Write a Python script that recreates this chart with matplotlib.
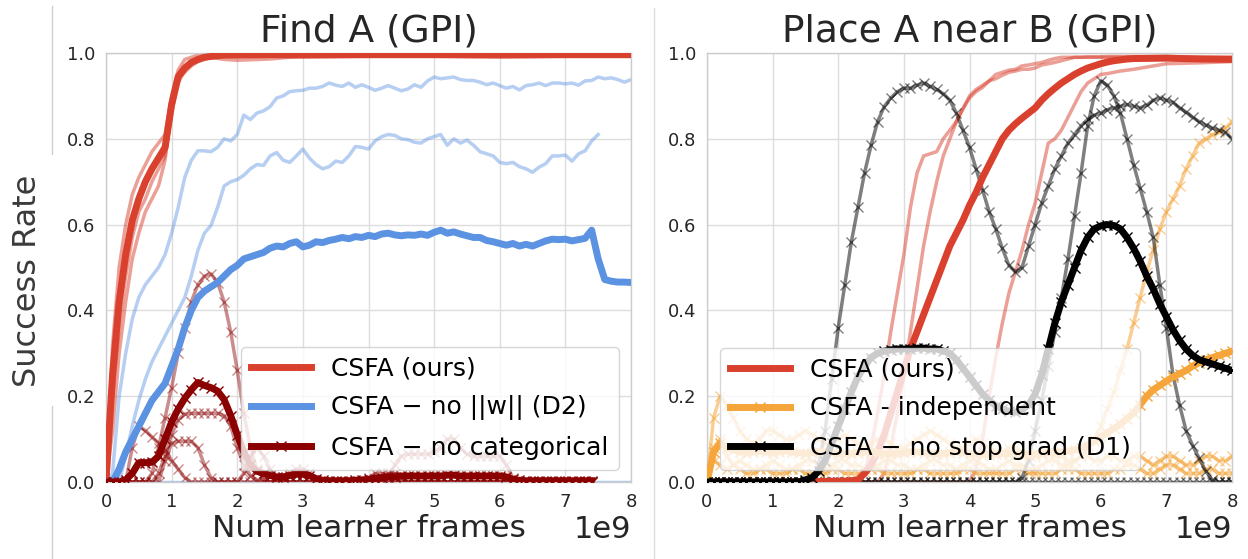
import numpy as np
import matplotlib
matplotlib.use("Agg")
import matplotlib.pyplot as plt
from matplotlib.lines import Line2D

# ---- data (x in units of 1e9 learner frames) ----
steps = [round(0.1 * i, 1) for i in range(81)]

# Find A (GPI): CSFA (ours)
red_find_x = [0.0, 0.1, 0.2, 0.3, 0.4, 0.5, 0.6, 0.7, 0.8, 0.9, 1.0, 1.1, 1.2,
              1.3, 1.4, 1.5, 1.6, 1.8, 2.0, 2.5, 3.0, 4.0, 5.0, 6.0, 7.0, 8.0]
red_find_mean = [0.0, 0.25, 0.42, 0.53, 0.61, 0.66, 0.70, 0.73, 0.755, 0.78, 0.88, 0.945, 0.965,
                 0.978, 0.985, 0.99, 0.992, 0.995, 0.995, 0.996, 0.995, 0.996, 0.996, 0.995, 0.996, 0.996]
red_find_s1 = [0.0, 0.32, 0.5, 0.6, 0.67, 0.71, 0.74, 0.77, 0.79, 0.81, 0.9, 0.96, 0.985,
               0.99, 0.995, 0.996, 0.997, 0.997, 0.997, 0.997, 0.997, 0.997, 0.997, 0.997, 0.997, 0.997]
red_find_s2 = [0.0, 0.2, 0.36, 0.48, 0.57, 0.63, 0.66, 0.70, 0.73, 0.76, 0.86, 0.93, 0.96,
               0.975, 0.985, 0.99, 0.99, 0.985, 0.983, 0.986, 0.993, 0.996, 0.996, 0.996, 0.996, 0.996]
red_find_s3 = [0.0, 0.12, 0.3, 0.42, 0.52, 0.58, 0.63, 0.66, 0.69, 0.75, 0.87, 0.94, 0.955,
               0.97, 0.98, 0.985, 0.99, 0.995, 0.995, 0.995, 0.996, 0.996, 0.996, 0.996, 0.996, 0.996]

# Find A (GPI): CSFA - no ||w|| (D2)
blue_mean = [
    0.0, 0.0, 0.03, 0.07, 0.1, 0.13, 0.16, 0.19, 0.21, 0.23,
    0.27, 0.31, 0.36, 0.4, 0.43, 0.445, 0.455, 0.465, 0.48, 0.495,
    0.505, 0.52, 0.525, 0.53, 0.535, 0.545, 0.55, 0.548, 0.556, 0.56,
    0.548, 0.552, 0.56, 0.558, 0.563, 0.566, 0.57, 0.567, 0.572, 0.57,
    0.575, 0.572, 0.578, 0.58, 0.576, 0.574, 0.576, 0.575, 0.578, 0.575,
    0.582, 0.587, 0.58, 0.583, 0.578, 0.574, 0.57, 0.57, 0.563, 0.56,
    0.556, 0.552, 0.556, 0.55, 0.554, 0.55, 0.556, 0.562, 0.566, 0.565,
    0.566, 0.562, 0.565, 0.568, 0.587, 0.52, 0.472, 0.468, 0.466, 0.466, 0.465]
blue_s1 = [
    0.0, 0.02, 0.2, 0.3, 0.38, 0.43, 0.46, 0.48, 0.5, 0.53,
    0.58, 0.64, 0.71, 0.75, 0.772, 0.772, 0.77, 0.78, 0.8, 0.795,
    0.81, 0.855, 0.845, 0.86, 0.865, 0.875, 0.895, 0.9, 0.91, 0.912,
    0.913, 0.918, 0.918, 0.922, 0.93, 0.925, 0.922, 0.93, 0.92, 0.926,
    0.92, 0.913, 0.918, 0.924, 0.918, 0.912, 0.916, 0.926, 0.92, 0.935,
    0.944, 0.94, 0.942, 0.944, 0.938, 0.936, 0.936, 0.932, 0.926, 0.93,
    0.924, 0.918, 0.922, 0.914, 0.924, 0.926, 0.93, 0.924, 0.93, 0.93,
    0.928, 0.93, 0.925, 0.935, 0.936, 0.944, 0.94, 0.942, 0.938, 0.932, 0.938]
blue_s2 = [
    0.0, 0.0, 0.0, 0.06, 0.13, 0.19, 0.24, 0.28, 0.31, 0.34,
    0.37, 0.4, 0.43, 0.48, 0.54, 0.58, 0.598, 0.64, 0.69, 0.7,
    0.705, 0.715, 0.73, 0.74, 0.738, 0.76, 0.768, 0.75, 0.745, 0.76,
    0.776, 0.755, 0.74, 0.73, 0.735, 0.748, 0.745, 0.76, 0.782, 0.78,
    0.776, 0.795, 0.805, 0.81, 0.808, 0.8, 0.798, 0.792, 0.79, 0.8,
    0.805, 0.81, 0.785, 0.8, 0.79, 0.797, 0.785, 0.77, 0.765, 0.76,
    0.745, 0.742, 0.745, 0.735, 0.73, 0.722, 0.734, 0.742, 0.76, 0.76,
    0.762, 0.748, 0.765, 0.772, 0.795, 0.81]
blue_s3_x = [0.0, 8.0]
blue_s3 = [0.0, 0.0]

# Find A (GPI): CSFA - no categorical
darkred_mean = [
    0.0, 0.0, 0.0, 0.005, 0.02, 0.045, 0.045, 0.046, 0.06, 0.1,
    0.14, 0.17, 0.195, 0.215, 0.232, 0.225, 0.22, 0.212, 0.192, 0.155,
    0.11, 0.07, 0.04, 0.025, 0.02, 0.015, 0.012, 0.012, 0.015, 0.018,
    0.018, 0.015, 0.008, 0.004, 0.003, 0.003, 0.003, 0.003, 0.004, 0.005,
    0.006, 0.008, 0.01, 0.012, 0.012, 0.014, 0.014, 0.014, 0.014, 0.014,
    0.014, 0.014, 0.016, 0.016, 0.014, 0.014, 0.014, 0.014, 0.014, 0.014,
    0.014, 0.012, 0.006, 0.004, 0.003, 0.003, 0.003, 0.003, 0.003, 0.003,
    0.003, 0.003, 0.003, 0.003, 0.003]
darkred_s1 = [
    0.0, 0.0, 0.0, 0.0, 0.0, 0.0, 0.0, 0.02, 0.08, 0.15,
    0.22, 0.3, 0.36, 0.42, 0.46, 0.48, 0.485, 0.465, 0.42, 0.35,
    0.26, 0.16, 0.08, 0.03, 0.008, 0.0, 0.0, 0.0, 0.0, 0.0,
    0.0, 0.0, 0.0, 0.0, 0.0, 0.0, 0.0, 0.0, 0.0, 0.0,
    0.0, 0.0, 0.0, 0.0, 0.0, 0.0, 0.0, 0.0, 0.0, 0.0,
    0.0, 0.0, 0.0, 0.0, 0.0, 0.0, 0.0, 0.0, 0.0, 0.0,
    0.0, 0.0, 0.0, 0.0, 0.0, 0.0, 0.0, 0.0, 0.0, 0.0,
    0.0, 0.0, 0.0, 0.0, 0.0]
darkred_s2 = [
    0.0, 0.0, 0.0, 0.0, 0.0, 0.0, 0.0, 0.0, 0.02, 0.06,
    0.11, 0.145, 0.158, 0.16, 0.16, 0.16, 0.16, 0.16, 0.155, 0.13,
    0.08, 0.04, 0.015, 0.005, 0.0, 0.0, 0.0, 0.0, 0.0, 0.0,
    0.0, 0.0, 0.0, 0.0, 0.0, 0.0, 0.0, 0.0, 0.0, 0.0,
    0.0, 0.0, 0.0, 0.01, 0.04, 0.06, 0.065, 0.065, 0.065, 0.065,
    0.07, 0.08, 0.1, 0.1, 0.08, 0.065, 0.06, 0.06, 0.06, 0.06,
    0.06, 0.04, 0.01, 0.0, 0.0, 0.0, 0.0, 0.0, 0.0, 0.0,
    0.0, 0.0, 0.0, 0.0, 0.0]
darkred_s3 = [
    0.0, 0.0, 0.0, 0.0, 0.0, 0.0, 0.0, 0.0, 0.0, 0.05,
    0.09, 0.095, 0.095, 0.095, 0.08, 0.04, 0.01, 0.0, 0.0, 0.0,
    0.0, 0.02, 0.06, 0.08, 0.06, 0.03, 0.01, 0.0, 0.0, 0.0,
    0.0, 0.0, 0.0, 0.0, 0.0, 0.0, 0.0, 0.0, 0.0, 0.0,
    0.0, 0.0, 0.0, 0.0, 0.0, 0.0, 0.0, 0.0, 0.0, 0.0,
    0.0, 0.0, 0.0, 0.0, 0.0, 0.0, 0.0, 0.0, 0.0, 0.0,
    0.0, 0.0, 0.0, 0.0, 0.0, 0.0, 0.0, 0.0, 0.0, 0.0,
    0.0, 0.0, 0.0, 0.0, 0.0]
darkred_s4 = [
    0.0, 0.0, 0.0, 0.0, 0.08, 0.13, 0.12, 0.105, 0.09, 0.075,
    0.05, 0.03, 0.01, 0.0, 0.0, 0.0, 0.0, 0.0, 0.0, 0.0,
    0.0, 0.0, 0.0, 0.0, 0.0, 0.0, 0.0, 0.0, 0.02, 0.03,
    0.03, 0.02, 0.0, 0.0, 0.0, 0.0, 0.0, 0.0, 0.0, 0.0,
    0.01, 0.02, 0.02, 0.02, 0.02, 0.01, 0.0, 0.0, 0.0, 0.0,
    0.0, 0.0, 0.0, 0.0, 0.0, 0.0, 0.0, 0.0, 0.0, 0.0,
    0.0, 0.0, 0.0, 0.0, 0.0, 0.0, 0.0, 0.0, 0.0, 0.0,
    0.0, 0.0, 0.0, 0.0, 0.0]

# Place A near B (GPI): CSFA (ours)
red_place_x = [0.0, 1.0, 2.0,
               2.1, 2.2, 2.3, 2.4, 2.5, 2.6, 2.7, 2.8, 2.9, 3.0,
               3.1, 3.2, 3.3, 3.4, 3.5, 3.6, 3.7, 3.8, 3.9, 4.0,
               4.1, 4.2, 4.3, 4.4, 4.5, 4.6, 4.7, 4.8, 4.9, 5.0,
               5.1, 5.2, 5.3, 5.4, 5.5, 5.6, 5.7, 5.8, 5.9, 6.0,
               6.1, 6.2, 6.3, 6.4, 6.5, 7.0, 7.5, 8.0]
red_place_mean = [0.0, 0.0, 0.002,
                  0.002, 0.003, 0.005, 0.02, 0.04, 0.07, 0.11, 0.16, 0.21, 0.26,
                  0.31, 0.35, 0.39, 0.43, 0.47, 0.51, 0.55, 0.58, 0.61, 0.645,
                  0.675, 0.71, 0.74, 0.77, 0.80, 0.82, 0.835, 0.848, 0.86, 0.872,
                  0.89, 0.905, 0.918, 0.93, 0.94, 0.95, 0.958, 0.965, 0.97, 0.975,
                  0.979, 0.982, 0.984, 0.986, 0.987, 0.988, 0.986, 0.985]
red_place_s1 = [0.0, 0.0, 0.0,
                0.0, 0.0, 0.0, 0.02, 0.08, 0.16, 0.25, 0.35, 0.44, 0.53,
                0.64, 0.72, 0.76, 0.765, 0.77, 0.80, 0.82, 0.84, 0.87, 0.895,
                0.91, 0.92, 0.935, 0.95, 0.955, 0.96, 0.962, 0.97, 0.972, 0.975,
                0.978, 0.983, 0.987, 0.99, 0.99, 0.99, 0.99, 0.99, 0.99, 0.99,
                0.99, 0.99, 0.99, 0.99, 0.99, 0.99, 0.99, 0.99]
red_place_s2 = [0.0, 0.0, 0.0,
                0.0, 0.0, 0.0, 0.0, 0.0, 0.0, 0.02, 0.08, 0.16, 0.25,
                0.35, 0.45, 0.55, 0.63, 0.7, 0.76, 0.8, 0.84, 0.87, 0.9,
                0.915, 0.925, 0.935, 0.94, 0.948, 0.955, 0.958, 0.962, 0.962, 0.965,
                0.972, 0.975, 0.978, 0.982, 0.986, 0.99, 0.99, 0.991, 0.991, 0.991,
                0.992, 0.992, 0.992, 0.992, 0.992, 0.992, 0.99, 0.99]
red_place_s3 = [0.0, 0.0, 0.0,
                0.0, 0.0, 0.0, 0.0, 0.0, 0.0, 0.0, 0.0, 0.0, 0.0,
                0.0, 0.0, 0.0, 0.0, 0.0, 0.0, 0.0, 0.0, 0.0, 0.0,
                0.03, 0.1, 0.2, 0.29, 0.37, 0.44, 0.49, 0.54, 0.6, 0.65,
                0.72, 0.79, 0.8, 0.82, 0.85, 0.88, 0.91, 0.93, 0.94, 0.95,
                0.952, 0.955, 0.958, 0.96, 0.962, 0.975, 0.977, 0.98]

# Place A near B (GPI): CSFA - independent
orange_mean = [
    0.0, 0.07, 0.09, 0.08, 0.075, 0.07, 0.068, 0.07, 0.072, 0.07,
    0.068, 0.07, 0.072, 0.07, 0.068, 0.066, 0.068, 0.07, 0.07, 0.068,
    0.066, 0.065, 0.066, 0.068, 0.07, 0.07, 0.068, 0.066, 0.065, 0.066,
    0.068, 0.07, 0.07, 0.068, 0.066, 0.065, 0.066, 0.068, 0.07, 0.068,
    0.066, 0.065, 0.064, 0.064, 0.065, 0.066, 0.066, 0.065, 0.064, 0.064,
    0.065, 0.066, 0.068, 0.068, 0.07, 0.072, 0.075, 0.08, 0.085, 0.095,
    0.105, 0.115, 0.125, 0.135, 0.148, 0.16, 0.18, 0.2, 0.215, 0.225,
    0.235, 0.245, 0.252, 0.26, 0.27, 0.278, 0.285, 0.29, 0.295, 0.3, 0.305]
orange_s1 = [
    0.0, 0.05, 0.04, 0.03, 0.04, 0.05, 0.04, 0.03, 0.03, 0.04,
    0.05, 0.04, 0.03, 0.03, 0.04, 0.05, 0.05, 0.04, 0.03, 0.04,
    0.05, 0.05, 0.04, 0.04, 0.03, 0.03, 0.04, 0.05, 0.05, 0.04,
    0.04, 0.03, 0.03, 0.04, 0.05, 0.05, 0.04, 0.04, 0.03, 0.04,
    0.05, 0.05, 0.04, 0.03, 0.03, 0.04, 0.05, 0.04, 0.04, 0.03,
    0.03, 0.04, 0.05, 0.05, 0.04, 0.04, 0.05, 0.06, 0.08, 0.1,
    0.13, 0.17, 0.21, 0.26, 0.31, 0.37, 0.43, 0.49, 0.54, 0.59,
    0.63, 0.66, 0.69, 0.73, 0.76, 0.79, 0.8, 0.81, 0.815, 0.825, 0.84]
orange_s2 = [
    0.0, 0.15, 0.2, 0.18, 0.15, 0.12, 0.1, 0.09, 0.1, 0.12,
    0.12, 0.11, 0.1, 0.1, 0.11, 0.12, 0.11, 0.1, 0.09, 0.09,
    0.1, 0.11, 0.1, 0.09, 0.08, 0.09, 0.1, 0.1, 0.09, 0.08,
    0.08, 0.09, 0.1, 0.11, 0.12, 0.11, 0.1, 0.09, 0.08, 0.08,
    0.09, 0.1, 0.09, 0.08, 0.07, 0.07, 0.08, 0.08, 0.07, 0.06,
    0.06, 0.07, 0.07, 0.06, 0.06, 0.05, 0.05, 0.06, 0.06, 0.05,
    0.05, 0.06, 0.06, 0.05, 0.05, 0.06, 0.06, 0.05, 0.04, 0.05,
    0.06, 0.06, 0.05, 0.04, 0.04, 0.05, 0.06, 0.06, 0.05, 0.05, 0.06]
orange_s3 = [
    0.0, 0.08, 0.1, 0.06, 0.04, 0.03, 0.02, 0.02, 0.03, 0.03,
    0.02, 0.02, 0.02, 0.03, 0.03, 0.02, 0.02, 0.02, 0.02, 0.03,
    0.03, 0.02, 0.02, 0.02, 0.02, 0.03, 0.03, 0.02, 0.02, 0.02,
    0.02, 0.02, 0.03, 0.03, 0.02, 0.02, 0.02, 0.02, 0.02, 0.03,
    0.03, 0.02, 0.02, 0.02, 0.02, 0.02, 0.02, 0.03, 0.03, 0.02,
    0.02, 0.02, 0.02, 0.02, 0.03, 0.03, 0.03, 0.02, 0.02, 0.02,
    0.02, 0.02, 0.03, 0.03, 0.04, 0.04, 0.03, 0.02, 0.02, 0.03,
    0.04, 0.04, 0.03, 0.02, 0.02, 0.02, 0.03, 0.03, 0.02, 0.02, 0.02]

# Place A near B (GPI): CSFA - no stop grad (D1)
black_mean = [
    0.0, 0.0, 0.0, 0.0, 0.0, 0.0, 0.0, 0.0, 0.0, 0.0,
    0.0, 0.0, 0.0, 0.0, 0.0, 0.005, 0.01, 0.025, 0.05, 0.09,
    0.13, 0.17, 0.21, 0.245, 0.27, 0.29, 0.3, 0.305, 0.308, 0.31,
    0.31, 0.31, 0.312, 0.312, 0.31, 0.31, 0.305, 0.3, 0.285, 0.265,
    0.245, 0.225, 0.205, 0.19, 0.178, 0.17, 0.165, 0.163, 0.168, 0.18,
    0.205, 0.25, 0.31, 0.37, 0.42, 0.46, 0.5, 0.54, 0.57, 0.59,
    0.597, 0.6, 0.598, 0.59, 0.57, 0.545, 0.515, 0.48, 0.45, 0.415,
    0.385, 0.355, 0.33, 0.31, 0.295, 0.285, 0.28, 0.275, 0.27, 0.265, 0.26]
black_s1 = [
    0.0, 0.0, 0.0, 0.0, 0.0, 0.0, 0.0, 0.0, 0.0, 0.0,
    0.0, 0.0, 0.0, 0.0, 0.0, 0.0, 0.0, 0.04, 0.12, 0.24,
    0.36, 0.46, 0.56, 0.64, 0.72, 0.785, 0.84, 0.875, 0.895, 0.91,
    0.918, 0.918, 0.925, 0.93, 0.922, 0.915, 0.905, 0.89, 0.86, 0.82,
    0.78, 0.73, 0.68, 0.63, 0.59, 0.545, 0.505, 0.49, 0.5, 0.55,
    0.6, 0.65, 0.69, 0.73, 0.76, 0.79, 0.81, 0.83, 0.845, 0.855,
    0.86, 0.868, 0.872, 0.876, 0.88, 0.876, 0.872, 0.878, 0.89, 0.895,
    0.89, 0.885, 0.872, 0.862, 0.85, 0.84, 0.832, 0.825, 0.82, 0.815, 0.8]
black_s2 = [
    0.0, 0.0, 0.0, 0.0, 0.0, 0.0, 0.0, 0.0, 0.0, 0.0,
    0.0, 0.0, 0.0, 0.0, 0.0, 0.0, 0.0, 0.0, 0.0, 0.0,
    0.0, 0.0, 0.0, 0.0, 0.0, 0.0, 0.0, 0.0, 0.0, 0.0,
    0.0, 0.0, 0.0, 0.0, 0.0, 0.0, 0.0, 0.0, 0.0, 0.0,
    0.0, 0.0, 0.0, 0.0, 0.0, 0.0, 0.0, 0.0, 0.01, 0.05,
    0.12, 0.19, 0.27, 0.35, 0.43, 0.52, 0.62, 0.72, 0.83, 0.9,
    0.935, 0.925, 0.9, 0.86, 0.8, 0.74, 0.685, 0.63, 0.57, 0.46,
    0.36, 0.25, 0.18, 0.12, 0.085, 0.055, 0.025, 0.005, 0.0, 0.0, 0.0]
black_s3 = [
    0.0, 0.0, 0.0, 0.0, 0.0, 0.0, 0.0, 0.0, 0.0, 0.0,
    0.0, 0.0, 0.0, 0.0, 0.0, 0.0, 0.0, 0.0, 0.0, 0.0,
    0.0, 0.0, 0.0, 0.0, 0.0, 0.0, 0.0, 0.0, 0.0, 0.0,
    0.0, 0.0, 0.0, 0.0, 0.0, 0.0, 0.0, 0.0, 0.0, 0.0,
    0.0, 0.0, 0.0, 0.0, 0.0, 0.0, 0.0, 0.0, 0.0, 0.0,
    0.0, 0.0, 0.0, 0.0, 0.0, 0.0, 0.0, 0.0, 0.0, 0.0,
    0.0, 0.0, 0.0, 0.0, 0.0, 0.0, 0.0, 0.0, 0.0, 0.0,
    0.0, 0.0, 0.0, 0.0, 0.0, 0.0, 0.0, 0.0, 0.0, 0.0, 0.0]

RED = "#d9412e"
BLUE = "#5b93e2"
DARKRED = "#8b0000"
ORANGE = "#f5a53a"
BLACK = "#000000"
TEXT = "#262626"

plt.rcParams["font.family"] = "DejaVu Sans"


def draw(ax, x, y, color, lw, alpha=1.0, marker=None, label=None, z=2):
    xs = np.array(x[:len(y)]) * 1e9
    ax.plot(xs, y, color=color, lw=lw, alpha=alpha, marker=marker, ms=7,
            mew=1.0, label=label, zorder=z)


def style(ax, title):
    ax.set_facecolor("white")
    ax.set_xlim(0, 8e9)
    ax.set_ylim(0, 1.0)
    ax.set_xticks(np.arange(9) * 1e9)
    ax.set_yticks([0.0, 0.2, 0.4, 0.6, 0.8, 1.0])
    ax.yaxis.set_major_formatter("{x:.1f}")
    ax.grid(True, color="#dddddd", lw=1.0, zorder=0)
    ax.set_axisbelow(True)
    for sp in ax.spines.values():
        sp.set_color("#cccccc")
        sp.set_linewidth(1.0)
    ax.tick_params(length=0, labelsize=13, colors=TEXT, pad=8)
    ax.set_title(title, fontsize=27, color=TEXT, pad=8)
    ax.set_xlabel("Num learner frames", fontsize=22.5, color=TEXT, labelpad=2)
    ax.xaxis.get_offset_text().set_fontsize(22)
    ax.xaxis.get_offset_text().set_color(TEXT)


fig = plt.figure(figsize=(12.48, 5.59), dpi=100)
ax1 = fig.add_axes([106 / 1248, 77 / 559, 525 / 1248, 429 / 559])
ax2 = fig.add_axes([707 / 1248, 77 / 559, 525 / 1248, 429 / 559])

# thin panel borders from the composite figure
fig.add_artist(Line2D([52 / 1248] * 2, [0, 0.99], transform=fig.transFigure,
                      color="#cfcfcf", lw=1.0, zorder=-1))
fig.add_artist(Line2D([654 / 1248] * 2, [0, 0.985], transform=fig.transFigure,
                      color="#dcdcdc", lw=1.0, zorder=-1))

# ---- left: Find A ----
for s in (blue_s1, blue_s2):
    draw(ax1, steps, s, BLUE, 2.5, alpha=0.45)
draw(ax1, blue_s3_x, blue_s3, BLUE, 2.5, alpha=0.45)
for s in (red_find_s1, red_find_s2, red_find_s3):
    draw(ax1, red_find_x, s, RED, 2.5, alpha=0.5)
for s in (darkred_s1, darkred_s2, darkred_s3, darkred_s4):
    draw(ax1, steps, s, DARKRED, 2.5, alpha=0.45, marker="x")
draw(ax1, red_find_x, red_find_mean, RED, 5, label="CSFA (ours)", z=3)
draw(ax1, steps, blue_mean, BLUE, 5, label="CSFA \u2212 no ||w|| (D2)", z=3)
draw(ax1, steps, darkred_mean, DARKRED, 5, marker="x",
     label="CSFA \u2212 no categorical", z=3)
style(ax1, "Find A (GPI)")
ax1.legend(loc="lower right", fontsize=18, framealpha=0.8, edgecolor="#cccccc",
           handlelength=2.4, borderaxespad=0.5, labelspacing=0.6)

ax1.set_ylabel("Success Rate", fontsize=23, color="#3a3a3a",
               bbox=dict(boxstyle="square,pad=0.6", fc="white", ec="none"))
ax1.yaxis.set_label_coords(-0.12, 0.47)

# ---- right: Place A near B ----
for s in (red_place_s1, red_place_s2, red_place_s3):
    draw(ax2, red_place_x, s, RED, 2.5, alpha=0.5)
draw(ax2, red_place_x, red_place_mean, RED, 5, label="CSFA (ours)", z=3)
for s in (orange_s1, orange_s2, orange_s3):
    draw(ax2, steps, s, ORANGE, 2.5, alpha=0.55, marker="x")
draw(ax2, steps, orange_mean, ORANGE, 5, marker="x",
     label="CSFA - independent", z=3)
for s in (black_s1, black_s2, black_s3):
    draw(ax2, steps, s, BLACK, 2.5, alpha=0.5, marker="x")
draw(ax2, steps, black_mean, BLACK, 5, marker="x",
     label="CSFA \u2212 no stop grad (D1)", z=3)
style(ax2, "Place A near B (GPI)")
ax2.legend(loc="lower left", fontsize=18, framealpha=0.8, edgecolor="#cccccc",
           handlelength=2.4, borderaxespad=0.5, labelspacing=0.6)

fig.savefig("out.png", dpi=100, facecolor="white")
